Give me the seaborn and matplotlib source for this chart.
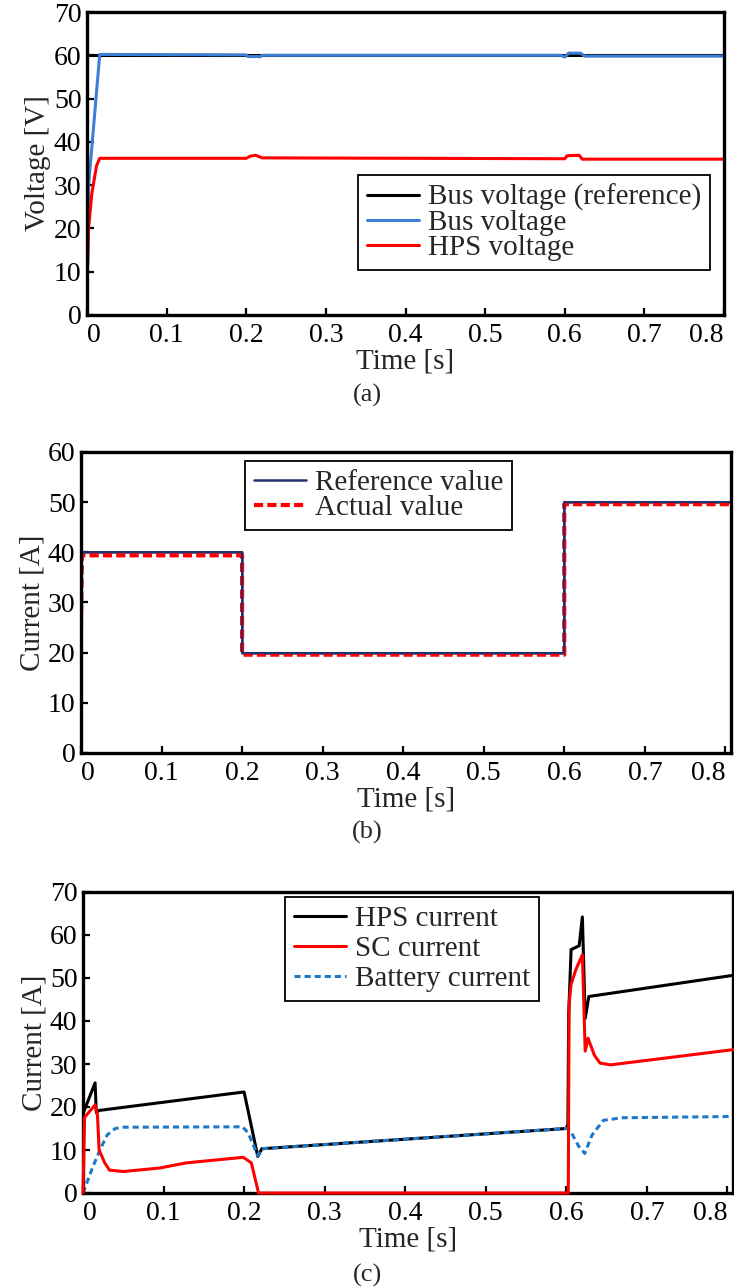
import matplotlib
matplotlib.use("Agg")
import matplotlib.pyplot as plt
import seaborn as sns

# (a) voltages
bus_ref_t = [0.0, 0.8]
bus_ref_v = [60.0, 60.0]
bus_t = [0.0, 0.002, 0.016, 0.2, 0.202, 0.218, 0.22, 0.595, 0.6, 0.605, 0.62, 0.625, 0.8]
bus_v = [0.0, 30.0, 60.2, 60.1, 59.7, 59.7, 60.0, 60.0, 59.6, 60.5, 60.5, 59.8, 59.8]
hps_v_t = [0.0, 0.0005, 0.002, 0.006, 0.012, 0.016, 0.2, 0.205, 0.212, 0.22, 0.6, 0.603, 0.618, 0.622, 0.8]
hps_v = [0.0, 10.0, 20.0, 28.0, 34.5, 36.2, 36.2, 36.7, 36.9, 36.3, 36.1, 36.8, 36.9, 36.0, 36.0]

# (b) reference / actual current
ref_t = [0.0, 0.2, 0.2, 0.6, 0.6, 0.81]
ref_i = [40.0, 40.0, 20.0, 20.0, 50.0, 50.0]
act_t = [0.0, 0.001, 0.2, 0.2, 0.6, 0.6, 0.81]
act_i = [25.0, 39.4, 39.4, 19.6, 19.6, 49.6, 49.6]

# (c) currents
hps_t = [0.0, 0.0005, 0.015, 0.0165, 0.02, 0.2, 0.217, 0.222, 0.6, 0.602,
         0.603, 0.606, 0.616, 0.62, 0.6235, 0.628, 0.81]
hps_i = [0.0, 18.7, 25.6, 18.7, 19.2, 23.5, 8.5, 10.3, 15.0, 16.0,
         41.6, 56.6, 57.5, 64.2, 40.6, 45.7, 50.7]
sc_t = [0.0, 0.002, 0.015, 0.018, 0.02, 0.027, 0.033, 0.05, 0.095, 0.128, 0.199,
        0.209, 0.215, 0.218, 0.6025, 0.6035, 0.606, 0.612, 0.62, 0.6235, 0.627,
        0.635, 0.642, 0.655, 0.81]
sc_i = [0.0, 17.6, 20.5, 18.0, 10.0, 7.0, 5.3, 5.0, 5.8, 7.0, 8.3,
        7.0, 2.3, 0.0, 0.0, 44.0, 48.5, 52.0, 55.4, 33.0, 36.0,
        32.0, 30.2, 29.8, 33.4]
bat_t = [0.0, 0.005, 0.012, 0.021, 0.03, 0.04, 0.05, 0.198, 0.205, 0.217, 0.222,
         0.6, 0.605, 0.615, 0.623, 0.632, 0.646, 0.67, 0.81]
bat_i = [0.0, 2.5, 6.0, 10.0, 13.5, 15.0, 15.3, 15.4, 14.0, 8.7, 10.3,
         15.0, 14.5, 11.0, 9.2, 13.5, 16.9, 17.5, 17.8]

sns.set_style("ticks")
plt.rcParams['font.family'] = ['Liberation Serif', 'DejaVu Serif']
plt.rcParams['font.size'] = 20

fig = plt.figure(figsize=(7.34, 12.87), dpi=100)
W, H = 734.0, 1287.0


def make_axes(left, right, top, bottom):
    return fig.add_axes([left / W, 1 - bottom / H, (right - left) / W, (bottom - top) / H])


def style_axes(ax, xmax, ymax, ylabel):
    ax.set_xlim(0, xmax)
    ax.set_ylim(0, ymax)
    ax.set_xticks([0, 0.1, 0.2, 0.3, 0.4, 0.5, 0.6, 0.7, 0.8])
    ax.set_xticklabels(['0', '0.1', '0.2', '0.3', '0.4', '0.5', '0.6', '0.7', '0.8'])
    ax.get_xticklabels()[0].set_ha('left')
    ax.get_xticklabels()[-1].set_ha('right')
    ax.set_yticks(range(0, int(ymax) + 1, 10))
    ax.tick_params(direction='in', length=5, width=1.6, labelsize=20, colors='black')
    ax.tick_params(axis='x', pad=6)
    ax.tick_params(axis='y', pad=4)
    for sp in ax.spines.values():
        sp.set_linewidth(2.4)
        sp.set_color('black')
    ax.set_xlabel('Time [s]', fontsize=21, labelpad=0)
    ax.set_ylabel(ylabel, fontsize=21, labelpad=2)


def add_legend(ax, loc, anchor, spacing):
    leg = ax.legend(loc=loc, bbox_to_anchor=anchor, fontsize=21, frameon=True, fancybox=False,
                    edgecolor='black', framealpha=1, borderpad=0.3, labelspacing=spacing,
                    handlelength=1.8, handletextpad=0.3, borderaxespad=0)
    leg.get_frame().set_linewidth(1.3)


# (a)
ax1 = make_axes(87, 724, 12, 315)
sns.lineplot(x=bus_ref_t, y=bus_ref_v, ax=ax1, color='black', lw=2.2, estimator=None, sort=False,
             label='Bus voltage (reference)')
sns.lineplot(x=bus_t, y=bus_v, ax=ax1, color='#3c7fd4', lw=2.2, estimator=None, sort=False,
             label='Bus voltage')
sns.lineplot(x=hps_v_t, y=hps_v, ax=ax1, color='#ff0000', lw=2.2, estimator=None, sort=False,
             label='HPS voltage')
style_axes(ax1, 0.8, 70, 'Voltage [V]')
add_legend(ax1, 'lower right', (0.978, 0.149), -0.05)

# (b)
ax2 = make_axes(81, 731, 452, 753)
sns.lineplot(x=ref_t, y=ref_i, ax=ax2, color='#22306e', lw=1.8, estimator=None, sort=False,
             label='Reference value')
sns.lineplot(x=act_t, y=act_i, ax=ax2, color='#ff0000', lw=3.0, estimator=None, sort=False,
             linestyle=(0, (2.2, 1.0)), label='Actual value')
sns.lineplot(x=ref_t, y=ref_i, ax=ax2, color='#22306e', lw=1.4, estimator=None, sort=False)
style_axes(ax2, 0.807, 60, 'Current [A]')
add_legend(ax2, 'upper left', (0.252, 0.970), -0.05)

# (c)
ax3 = make_axes(83, 733, 892, 1193)
sns.lineplot(x=hps_t, y=hps_i, ax=ax3, color='black', lw=2.2, estimator=None, sort=False,
             label='HPS current')
sns.lineplot(x=sc_t, y=sc_i, ax=ax3, color='#ff0000', lw=2.2, estimator=None, sort=False,
             label='SC current', zorder=3, clip_on=False)
sns.lineplot(x=bat_t, y=bat_i, ax=ax3, color='#1f78c8', lw=2.2, estimator=None, sort=False,
             linestyle=(0, (2.0, 1.3)), label='Battery current')
style_axes(ax3, 0.807, 70, 'Current [A]')
add_legend(ax3, 'upper left', (0.311, 0.983), 0.12)

for lbl, y in [('(a)', 395), ('(b)', 832), ('(c)', 1275)]:
    fig.text(367 / W, 1 - y / H, lbl, ha='center', va='center', fontsize=19)

fig.savefig('out.png', dpi=100)
